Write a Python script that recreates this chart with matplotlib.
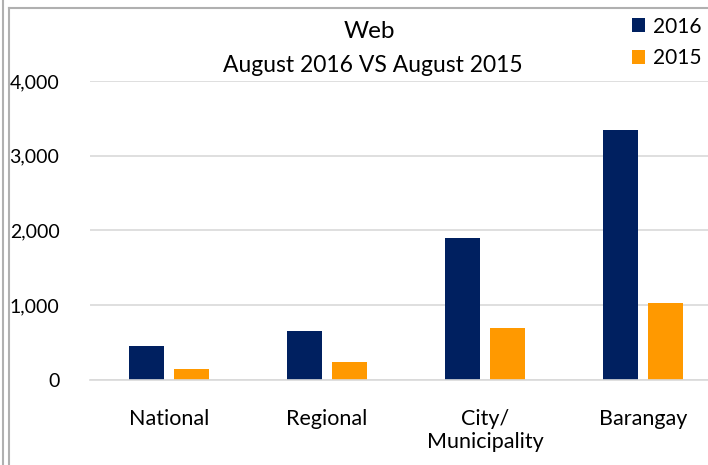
import matplotlib
matplotlib.use('Agg')
import matplotlib.pyplot as plt
from matplotlib.lines import Line2D
import numpy as np

categorias = ['National', 'Regional', 'City/\nMunicipality', 'Barangay']
valores_2016 = [455, 655, 1900, 3345]
valores_2015 = [147, 240, 695, 1030]
yticks = [0, 1000, 2000, 3000, 4000]
cor_2016 = '#002060'
cor_2015 = '#ff9900'

plt.rcParams['font.family'] = ['Lato', 'DejaVu Sans']

W, H = 708, 465
fig = plt.figure(figsize=(W / 100, H / 100), dpi=100)

# moldura cinza
borda = '#b0b0b0'
fig.add_artist(Line2D([2.5 / W, 2.5 / W], [0, 1], color=borda, lw=1.5))
fig.add_artist(Line2D([9 / W, 9 / W], [0, 1 - 8 / H], color=borda, lw=1.5))
fig.add_artist(Line2D([9 / W, 1], [1 - 8 / H, 1 - 8 / H], color=borda, lw=1.5))

ax = fig.add_axes([90 / W, 1 - 380 / H, 632 / W, 299 / H])
x = np.arange(len(categorias))
largura = 0.22
ax.bar(x - 0.142, valores_2016, width=largura, color=cor_2016, label='2016', zorder=3)
ax.bar(x + 0.142, valores_2015, width=largura, color=cor_2015, label='2015', zorder=3)

ax.set_xlim(-0.5, len(categorias) - 0.5)
ax.set_ylim(0, 4000)
ax.set_yticks(yticks)
ax.set_yticklabels([f'{v:,}' for v in yticks], fontsize=14)
ax.set_xticks(x)
ax.set_xticklabels(categorias, fontsize=15.5, linespacing=1.2)
ax.tick_params(length=0)
ax.tick_params(axis='y', pad=22)
ax.tick_params(axis='x', pad=21)
ax.yaxis.grid(True, color='#d9d9d9', lw=1.2, zorder=0)
for s in ['top', 'right', 'left']:
    ax.spines[s].set_visible(False)
ax.spines['bottom'].set_color('#d9d9d9')
ax.spines['bottom'].set_linewidth(1.2)
ax.spines['bottom'].set_zorder(4)

fig.text(369 / W, 1 - 32 / H, 'Web', fontsize=17.5, ha='center', va='center')
fig.text(373 / W, 1 - 66 / H, 'August 2016 VS August 2015', fontsize=16.5, ha='center', va='center')

fig.legend(loc='upper right', bbox_to_anchor=(1.018, 1 + 2 / H), frameon=False,
           fontsize=15, handlelength=0.65, handleheight=0.65, handletextpad=0.4,
           labelspacing=0.55)

fig.savefig('out.png', dpi=100)
plt.close()
